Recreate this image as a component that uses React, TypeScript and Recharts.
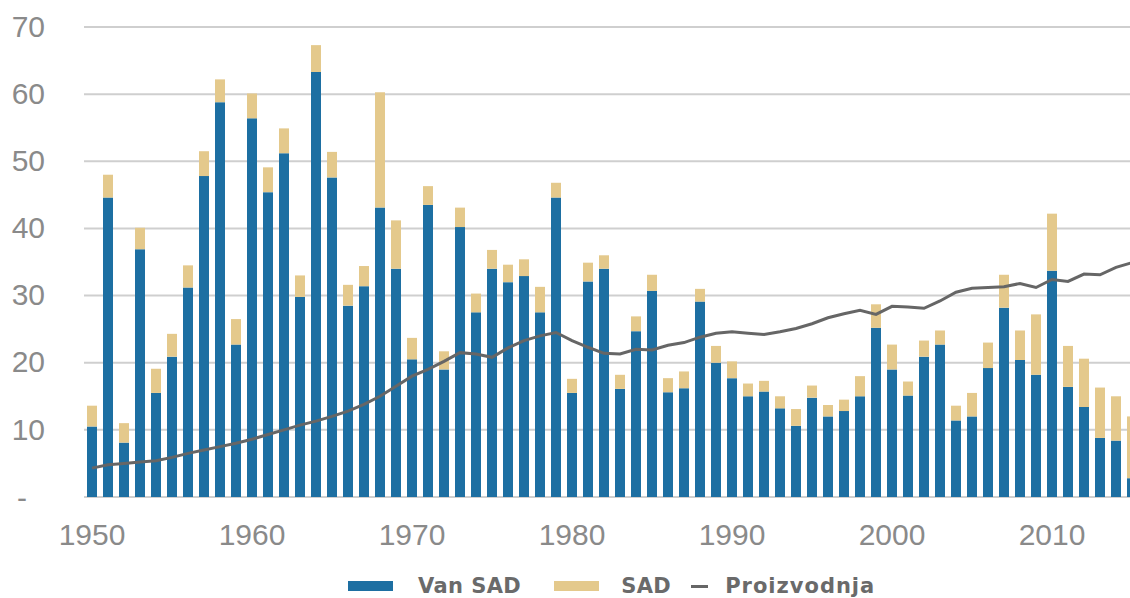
import React from "react";
import {
  Bar,
  CartesianGrid,
  ComposedChart,
  Legend,
  Line,
  XAxis,
  YAxis,
} from "recharts";

const years = [
  1950, 1951, 1952, 1953, 1954, 1955, 1956, 1957, 1958, 1959,
  1960, 1961, 1962, 1963, 1964, 1965, 1966, 1967, 1968, 1969,
  1970, 1971, 1972, 1973, 1974, 1975, 1976, 1977, 1978, 1979,
  1980, 1981, 1982, 1983, 1984, 1985, 1986, 1987, 1988, 1989,
  1990, 1991, 1992, 1993, 1994, 1995, 1996, 1997, 1998, 1999,
  2000, 2001, 2002, 2003, 2004, 2005, 2006, 2007, 2008, 2009,
  2010, 2011, 2012, 2013, 2014, 2015,
];

// Van SAD (blue)
const vanSad = [
  10.5, 44.6, 8.1, 36.9, 15.5, 20.9, 31.2, 47.8, 58.8, 22.7,
  56.4, 45.4, 51.2, 29.8, 63.3, 47.6, 28.5, 31.4, 43.1, 34.0,
  20.5, 43.5, 19.0, 40.2, 27.5, 34.0, 32.0, 32.9, 27.5, 44.6,
  15.5, 32.1, 34.0, 16.1, 24.7, 30.7, 15.6, 16.2, 29.1, 20.0,
  17.7, 15.0, 15.7, 13.2, 10.6, 14.8, 12.0, 12.8, 15.0, 25.2,
  19.0, 15.1, 20.9, 22.7, 11.4, 12.0, 19.2, 28.2, 20.4, 18.2,
  33.7, 16.4, 13.4, 8.8, 8.4, 2.8,
];

// SAD (tan)
const sad = [
  3.1, 3.4, 2.9, 3.2, 3.6, 3.4, 3.3, 3.7, 3.4, 3.8,
  3.7, 3.7, 3.7, 3.2, 4.0, 3.8, 3.1, 3.0, 17.2, 7.2,
  3.2, 2.8, 2.7, 2.9, 2.8, 2.8, 2.6, 2.5, 3.8, 2.2,
  2.1, 2.8, 2.0, 2.1, 2.2, 2.4, 2.1, 2.5, 1.9, 2.5,
  2.5, 1.9, 1.6, 1.8, 2.5, 1.8, 1.7, 1.7, 3.0, 3.5,
  3.7, 2.1, 2.4, 2.1, 2.2, 3.5, 3.8, 4.9, 4.4, 9.0,
  8.5, 6.1, 7.2, 7.5, 6.6, 9.2,
];

// Proizvodnja (line)
const proizvodnja = [
  4.3, 4.8, 5.0, 5.2, 5.4, 5.9, 6.5, 7.0, 7.5, 8.0,
  8.6, 9.3, 10.0, 10.7, 11.3, 12.0, 12.8, 13.8, 15.0, 16.5,
  18.0, 19.0, 20.2, 21.5, 21.3, 20.8, 22.2, 23.3, 24.0, 24.5,
  23.3, 22.3, 21.4, 21.3, 22.0, 21.9, 22.6, 23.0, 23.8, 24.4,
  24.6, 24.4, 24.2, 24.6, 25.1, 25.8, 26.7, 27.3, 27.8, 27.2,
  28.4, 28.3, 28.1, 29.2, 30.5, 31.1, 31.2, 31.3, 31.8, 31.2,
  32.4, 32.1, 33.2, 33.1, 34.2, 34.9,
];

const yTicks = [0, 10, 20, 30, 40, 50, 60, 70];

const BLUE = "#1d6fa2";
const TAN = "#e4c98c";
const LINE = "#666666";

const data = years.map((year, i) => ({
  year,
  van: vanSad[i],
  sad: sad[i],
  proizvodnja: proizvodnja[i],
}));

const YTick = (props: any) => {
  const { y, payload } = props;
  if (payload.value === 0) {
    return (
      <text x={22} y={y} dy="0.355em" textAnchor="middle" fill="#8a8a8a"
        fontSize={30} fontFamily="Liberation Sans, Arial, sans-serif">
        -
      </text>
    );
  }
  return (
    <text x={45} y={y - 1} dy="0.355em" textAnchor="end" fill="#8a8a8a"
      fontSize={30} fontFamily="Liberation Sans, Arial, sans-serif">
      {payload.value}
    </text>
  );
};

const legendText: React.CSSProperties = {
  fontFamily: "DejaVu Sans, Verdana, sans-serif",
  fontWeight: "bold",
  fontSize: 21,
  color: "#6a6a6a",
};

const LegendContent = () => (
  <div
    style={{
      display: "flex",
      alignItems: "center",
      height: 24,
      paddingLeft: 348,
      lineHeight: "24px",
    }}
  >
    <span style={{ width: 45, height: 10, background: BLUE, display: "inline-block" }} />
    <span style={{ ...legendText, marginLeft: 25, letterSpacing: 0.4 }}>Van SAD</span>
    <span style={{ width: 45, height: 10, background: TAN, display: "inline-block", marginLeft: 33 }} />
    <span style={{ ...legendText, marginLeft: 22, letterSpacing: 0.4 }}>SAD</span>
    <span style={{ width: 17, height: 3, background: LINE, display: "inline-block", marginLeft: 20 }} />
    <span style={{ ...legendText, marginLeft: 17, letterSpacing: 1 }}>Proizvodnja</span>
  </div>
);

export default function App() {
  return (
    <div
      style={{
        position: "absolute",
        left: 0,
        top: 0,
        width: 1130,
        height: 598,
        overflow: "hidden",
        background: "#fff",
      }}
    >
      <ComposedChart
        width={1145}
        height={598}
        data={data}
        margin={{ top: 27, right: 5, left: 0, bottom: 0 }}
        barSize={10}
      >
        <CartesianGrid vertical={false} stroke="#cfcfcf" strokeWidth={2} />
        <XAxis
          dataKey="year"
          interval={9}
          height={77}
          tickLine={false}
          axisLine={false}
          tickSize={0}
          tickMargin={27}
          tick={{ fill: "#8a8a8a", fontSize: 30, fontFamily: "Liberation Sans, Arial, sans-serif" }}
        />
        <YAxis
          width={84}
          domain={[0, 70]}
          ticks={yTicks}
          tickLine={false}
          axisLine={false}
          tick={<YTick />}
        />
        <Legend
          verticalAlign="bottom"
          content={<LegendContent />}
          wrapperStyle={{ left: 0, width: 1130, height: 24 }}
        />
        <Bar dataKey="van" name="Van SAD" stackId="a" fill={BLUE} isAnimationActive={false} />
        <Bar dataKey="sad" name="SAD" stackId="a" fill={TAN} isAnimationActive={false} />
        <Line
          dataKey="proizvodnja"
          name="Proizvodnja"
          type="linear"
          stroke={LINE}
          strokeWidth={3}
          dot={false}
          isAnimationActive={false}
        />
      </ComposedChart>
    </div>
  );
}
